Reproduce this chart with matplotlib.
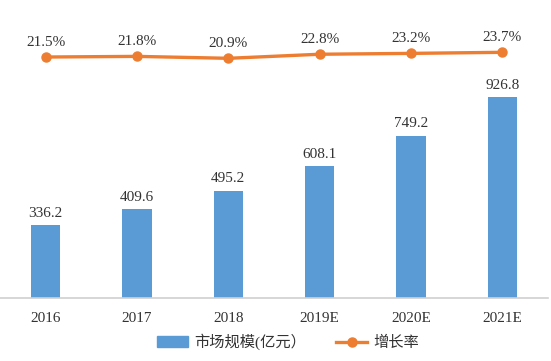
import matplotlib
matplotlib.use("Agg")
import matplotlib.pyplot as plt
from matplotlib.lines import Line2D
from matplotlib.patches import Patch

categories = ["2016", "2017", "2018", "2019E", "2020E", "2021E"]
market = [336.2, 409.6, 495.2, 608.1, 749.2, 926.8]
growth = [21.5, 21.8, 20.9, 22.8, 23.2, 23.7]
growth_labels = ["21.5%", "21.8%", "20.9%", "22.8%", "23.2%", "23.7%"]

bar_color = "#5B9BD5"
line_color = "#ED7D31"
fam = ["Liberation Serif", "Noto Sans CJK SC"]
plt.rcParams["font.family"] = fam

W, H = 551, 361
fig = plt.figure(figsize=(W / 100, H / 100), dpi=100)
ax = fig.add_axes([0 / W, 1 - 298 / H, 548 / W, 278 / H])
x = list(range(len(categories)))
ax.bar(x, market, width=0.32, color=bar_color, zorder=2)
ax.set_xlim(-0.5, len(categories) - 0.5)
ax.set_ylim(0, 1284)
for s in ["top", "right", "left"]:
    ax.spines[s].set_visible(False)
ax.spines["bottom"].set_color("#d0d0d0")
ax.spines["bottom"].set_linewidth(1.2)
ax.set_yticks([])
ax.set_xticks(x)
ax.set_xticklabels(categories, fontsize=11, color="#333333")
ax.tick_params(axis="x", length=0, pad=10)
for xi, v in zip(x, market):
    ax.annotate(f"{v:.1f}", (xi, v), xytext=(0, 4), textcoords="offset points",
                ha="center", va="bottom", fontsize=11, color="#333333")

ax2 = ax.twinx()
ax2.set_ylim(-91.1, 38.8)
ax2.plot(x, growth, color=line_color, linewidth=2.4, marker="o", markersize=6.5, zorder=3)
ax2.axis("off")
for xi, v, lab in zip(x, growth, growth_labels):
    ax2.annotate(lab, (xi, v), xytext=(0, 6), textcoords="offset points",
                 ha="center", va="bottom", fontsize=11, color="#333333")

handles = [Patch(color=bar_color), Line2D([0], [0], color=line_color, linewidth=2.4, marker="o", markersize=6.5)]
fig.legend(handles, ["市场规模(亿元）", "增长率"], loc="center", bbox_to_anchor=(288 / W, 1 - 342 / H),
           ncol=2, frameon=False, fontsize=11, handlelength=2.0, columnspacing=2.0, handletextpad=0.4,
           labelcolor="#333333")

fig.savefig("out.png", dpi=100)
